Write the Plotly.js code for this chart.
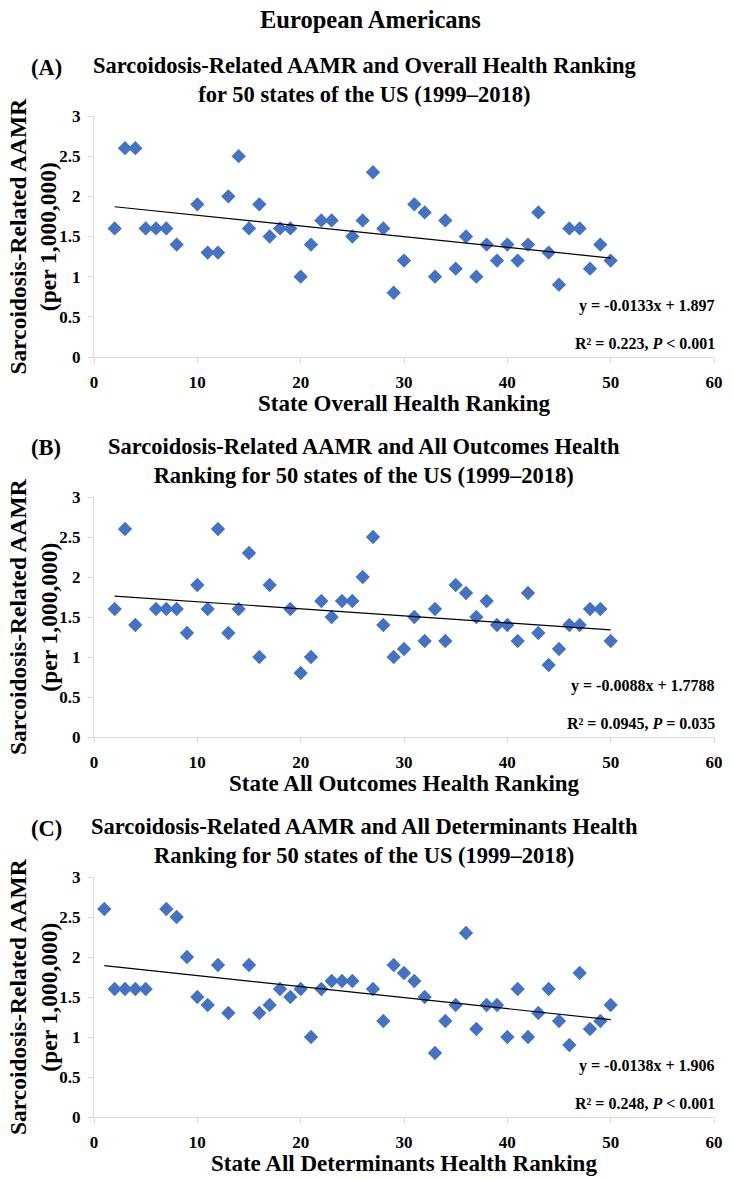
<!DOCTYPE html>
<html>
<head>
<meta charset="utf-8">
<script src="https://cdn.plot.ly/plotly-3.0.1.min.js"></script>
<style>
  html, body { margin: 0; padding: 0; background: #fff; }
  #chart { width: 734px; height: 1181px; }
</style>
</head>
<body>
<div id="chart"></div>
<script>
const W = 734;
const H = 1181;

// panel A - overall health ranking
const rankA = [2, 3, 4, 5, 6, 7, 8, 10, 11, 12, 13, 14, 15, 16, 17, 18, 19, 20, 21, 22, 23, 25, 26, 27, 28, 29, 30,
    31, 32, 33, 34, 35, 36, 37, 38, 39, 40, 41, 42, 43, 44, 45, 46, 47, 48, 49, 50];
const aamrA = [1.6, 2.6, 2.6, 1.6, 1.6, 1.6, 1.4, 1.9, 1.3, 1.3, 2.0, 2.5, 1.6, 1.9, 1.5, 1.6, 1.6, 1.0, 1.4, 1.7, 1.7, 1.5, 1.7, 2.3, 1.6, 0.8, 1.2,
    1.9, 1.8, 1.0, 1.7, 1.1, 1.5, 1.0, 1.4, 1.2, 1.4, 1.2, 1.4, 1.8, 1.3, 0.9, 1.6, 1.6, 1.1, 1.4, 1.2];

// panel B - all outcomes
const rankB = [2, 3, 4, 6, 7, 8, 9, 10, 11, 12, 13, 14, 15, 16, 17, 19, 20, 21, 22, 23, 24, 25, 26, 27, 28, 29, 30,
    31, 32, 33, 34, 35, 36, 37, 38, 39, 40, 41, 42, 43, 44, 45, 46, 47, 48, 49, 50];
const aamrB = [1.6, 2.6, 1.4, 1.6, 1.6, 1.6, 1.3, 1.9, 1.6, 2.6, 1.3, 1.6, 2.3, 1.0, 1.9, 1.6, 0.8, 1.0, 1.7, 1.5, 1.7, 1.7, 2.0, 2.5, 1.4, 1.0, 1.1,
    1.5, 1.2, 1.6, 1.2, 1.9, 1.8, 1.5, 1.7, 1.4, 1.4, 1.2, 1.8, 1.3, 0.9, 1.1, 1.4, 1.4, 1.6, 1.6, 1.2];

// panel C - all determinants
const rankC = [1, 2, 3, 4, 5, 7, 8, 9, 10, 11, 12, 13, 15, 16, 17, 18, 19, 20, 21, 22, 23, 24, 25, 27, 28, 29, 30,
    31, 32, 33, 34, 35, 36, 37, 38, 39, 40, 41, 42, 43, 44, 45, 46, 47, 48, 49, 50];
const aamrC = [2.6, 1.6, 1.6, 1.6, 1.6, 2.6, 2.5, 2.0, 1.5, 1.4, 1.9, 1.3, 1.9, 1.3, 1.4, 1.6, 1.5, 1.6, 1.0, 1.6, 1.7, 1.7, 1.7, 1.6, 1.2, 1.9, 1.8,
    1.7, 1.5, 0.8, 1.2, 1.4, 2.3, 1.1, 1.4, 1.4, 1.0, 1.6, 1.0, 1.3, 1.6, 1.2, 0.9, 1.8, 1.1, 1.2, 1.4];

const slopes = [-0.0133, -0.0088, -0.0138];
const intercepts = [1.897, 1.7788, 1.906];

const panelLetters = ['(A)', '(B)', '(C)'];
const panelTitles = [
    'Sarcoidosis-Related AAMR and Overall Health Ranking<br>for 50 states of the US (1999–2018)',
    'Sarcoidosis-Related AAMR and All Outcomes Health<br>Ranking for 50 states of the US (1999–2018)',
    'Sarcoidosis-Related AAMR and All Determinants Health<br>Ranking for 50 states of the US (1999–2018)',
];
const xTitles = ['State Overall Health Ranking', 'State All Outcomes Health Ranking', 'State All Determinants Health Ranking'];
const equations = ['y = -0.0133x + 1.897', 'y = -0.0088x + 1.7788', 'y = -0.0138x + 1.906'];
const rSquared = ['R² = 0.223, <i>P</i> < 0.001', 'R² = 0.0945, <i>P</i> = 0.035', 'R² = 0.248, <i>P</i> < 0.001'];

const FONT = 'Liberation Serif, Times New Roman, serif';
const px = x => x / W;
const py = y => 1 - y / H;

// pixel extents of each plot area (top of axis = 3, bottom = 0)
const plotTop = [116, 497, 877];
const plotBottom = [357, 737, 1117];
const plotLeft = 94, plotRight = 714;

const sets = [[rankA, aamrA], [rankB, aamrB], [rankC, aamrC]];

const traces = [];
sets.forEach(([xs, ys], i) => {
    const ax = i === 0 ? '' : String(i + 1);
    traces.push({
        x: xs,
        y: ys,
        xaxis: 'x' + ax,
        yaxis: 'y' + ax,
        mode: 'markers',
        type: 'scatter',
        marker: {symbol: 'diamond', size: 11, color: '#4472C4'},
        showlegend: false,
        hoverinfo: 'x+y',
    });
    const x0 = Math.min(...xs);
    const x1 = Math.max(...xs);
    traces.push({
        x: [x0, x1],
        y: [slopes[i] * x0 + intercepts[i], slopes[i] * x1 + intercepts[i]],
        xaxis: 'x' + ax,
        yaxis: 'y' + ax,
        mode: 'lines',
        type: 'scatter',
        line: {color: '#000', width: 1.2},
        showlegend: false,
        hoverinfo: 'skip',
    });
});

const layout = {
    width: W,
    height: H,
    margin: {l: 0, r: 0, t: 0, b: 0},
    paper_bgcolor: '#fff',
    plot_bgcolor: '#fff',
    font: {family: FONT, color: '#000'},
    annotations: [],
};

const tickFont = {family: FONT, size: 17, color: '#000', weight: 'bold'};

function label(x, y, text, size, extra) {
    return Object.assign({
        xref: 'paper', yref: 'paper', x: px(x), y: py(y),
        xanchor: 'center', yanchor: 'middle',
        text: '<b>' + text + '</b>', showarrow: false,
        font: {family: FONT, size: size, color: '#000'},
    }, extra || {});
}

sets.forEach((s, i) => {
    const ax = i === 0 ? '' : String(i + 1);
    layout['xaxis' + ax] = {
        domain: [px(plotLeft), px(plotRight)],
        anchor: 'y' + ax,
        range: [0, 60],
        dtick: 10,
        showgrid: false,
        zeroline: false,
        showline: true,
        linecolor: '#d9d9d9',
        linewidth: 1,
        ticks: 'outside',
        ticklen: 5,
        tickcolor: '#d9d9d9',
        tickfont: tickFont,
        ticklabelstandoff: 5,
    };
    layout['yaxis' + ax] = {
        domain: [py(plotBottom[i]), py(plotTop[i])],
        anchor: 'x' + ax,
        range: [0, 3],
        dtick: 0.5,
        showgrid: false,
        zeroline: false,
        showline: true,
        linecolor: '#d9d9d9',
        linewidth: 1,
        ticks: 'outside',
        ticklen: 5,
        tickcolor: '#d9d9d9',
        tickfont: tickFont,
        ticklabelstandoff: 4,
    };

    const mid = (plotTop[i] + plotBottom[i]) / 2;
    const ann = layout.annotations;
    ann.push(label(46, plotTop[i] - 49, panelLetters[i], 22.5));
    ann.push(label(364, plotTop[i] - 36, panelTitles[i], 22.5));
    ann.push(label(33, mid, 'Sarcoidosis-Related AAMR<br>(per 1,000,000)', 23.5, {textangle: -90}));
    ann.push(label(404, plotBottom[i] + 46, xTitles[i], 23));
    ann.push(label(717, plotBottom[i] - 51, equations[i], 16, {xanchor: 'right'}));
    ann.push(label(717, plotBottom[i] - 14, rSquared[i], 16, {xanchor: 'right'}));
});

layout.annotations.push(label(370, 20, 'European Americans', 24.5));

Plotly.newPlot('chart', traces, layout, {displayModeBar: false, staticPlot: true});
</script>
</body>
</html>
